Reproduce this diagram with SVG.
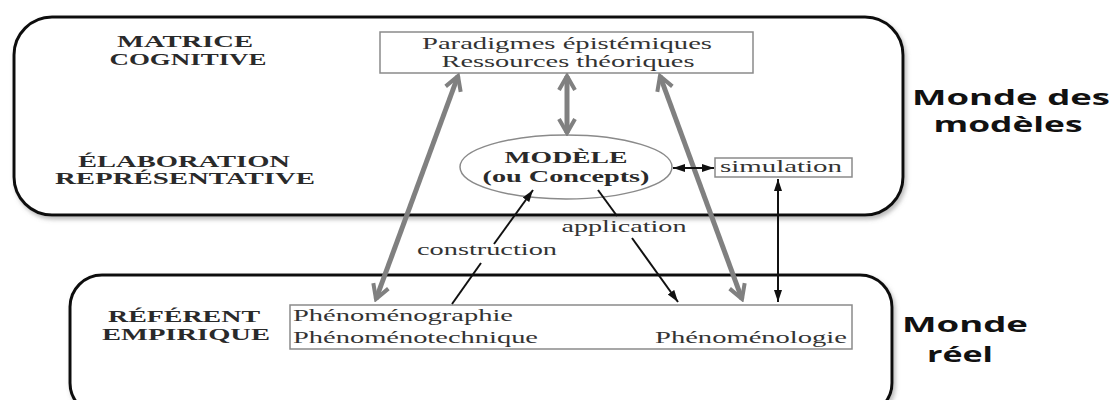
<svg xmlns="http://www.w3.org/2000/svg" width="1112" height="400" viewBox="0 0 1112 400">
<style>
.frame{fill:#fff;stroke:#111;stroke-width:3;filter:url(#sh)}
.box{fill:#fff;stroke:#8a8a8a;stroke-width:1.5}
.lab{font-family:"Liberation Serif",serif;font-weight:bold;font-size:16px;fill:#2a2a2a;text-anchor:middle}
.txt{font-family:"Liberation Serif",serif;font-size:16px;fill:#333}
.mid{text-anchor:middle}
.world{font-family:"Open Sans","Liberation Sans",sans-serif;font-weight:bold;font-size:21px;fill:#111;text-anchor:middle}
.g{stroke:#808080;stroke-width:5;fill:none}
.k{stroke:#111;stroke-width:2;fill:none}
</style>
<defs>
<filter id="sh" x="-5%" y="-5%" width="110%" height="115%">
<feDropShadow dx="2" dy="3" stdDeviation="2" flood-color="#777" flood-opacity="0.5"/>
</filter>
<marker id="ga" viewBox="0 0 20 20" refX="17" refY="10" markerWidth="20" markerHeight="20" markerUnits="userSpaceOnUse" orient="auto-start-reverse">
<path d="M3,2 L17,10 L3,18" fill="none" stroke="#808080" stroke-width="4"/>
</marker>
<marker id="ba" viewBox="0 0 12 10" refX="12" refY="5" markerWidth="12" markerHeight="10" markerUnits="userSpaceOnUse" orient="auto-start-reverse">
<path d="M0,1 L12,5 L0,9 Z" fill="#111"/>
</marker>
</defs>

<g id="monde-modeles">
<rect class="frame" x="14" y="17" width="889" height="198" rx="38" ry="38"/>
<text class="lab" x="185" y="47" textLength="136" lengthAdjust="spacingAndGlyphs">MATRICE</text>
<text class="lab" x="188" y="65" textLength="157" lengthAdjust="spacingAndGlyphs">COGNITIVE</text>
<text class="lab" x="184" y="167" textLength="212" lengthAdjust="spacingAndGlyphs">ÉLABORATION</text>
<text class="lab" x="185" y="184" textLength="260" lengthAdjust="spacingAndGlyphs">REPRÉSENTATIVE</text>
</g>

<g id="monde-reel">
<rect class="frame" x="70" y="275" width="822" height="140" rx="32" ry="32"/>
<text class="lab" x="184" y="322" textLength="152" lengthAdjust="spacingAndGlyphs">RÉFÉRENT</text>
<text class="lab" x="186" y="340" textLength="168" lengthAdjust="spacingAndGlyphs">EMPIRIQUE</text>
</g>

<g id="paradigmes">
<rect class="box" x="380" y="32" width="373" height="41"/>
<text class="txt mid" x="567" y="49" textLength="290" lengthAdjust="spacingAndGlyphs">Paradigmes épistémiques</text>
<text class="txt mid" x="568" y="67" textLength="253" lengthAdjust="spacingAndGlyphs">Ressources théoriques</text>
</g>

<g id="modele">
<ellipse cx="566" cy="167" rx="106" ry="32" fill="#fff" stroke="#8a8a8a" stroke-width="1.5"/>
<text class="lab" x="566" y="163" font-size="17" textLength="123" lengthAdjust="spacingAndGlyphs">MODÈLE</text>
<text class="lab" x="566" y="182" textLength="167" lengthAdjust="spacingAndGlyphs">(ou Concepts)</text>
</g>

<g id="simulation">
<rect class="box" x="715" y="158" width="137" height="19"/>
<text class="txt mid" x="781" y="172" font-size="15" textLength="122" lengthAdjust="spacingAndGlyphs">simulation</text>
</g>

<g id="phenomeno">
<rect class="box" x="290" y="305" width="562" height="44"/>
<text class="txt" x="293" y="321" textLength="220" lengthAdjust="spacingAndGlyphs">Phénoménographie</text>
<text class="txt" x="293" y="343" textLength="245" lengthAdjust="spacingAndGlyphs">Phénoménotechnique</text>
<text class="txt" x="847" y="343" text-anchor="end" textLength="192" lengthAdjust="spacingAndGlyphs">Phénoménologie</text>
</g>

<g id="connectors">
<line class="g" x1="458" y1="76" x2="376" y2="299" marker-start="url(#ga)" marker-end="url(#ga)"/>
<line class="g" x1="660" y1="76" x2="742" y2="299" marker-start="url(#ga)" marker-end="url(#ga)"/>
<line class="g" x1="567" y1="76" x2="567" y2="133" marker-start="url(#ga)" marker-end="url(#ga)"/>
<line class="k" x1="673" y1="168" x2="714" y2="168" marker-start="url(#ba)" marker-end="url(#ba)"/>
<line class="k" x1="778" y1="179" x2="778" y2="302" marker-start="url(#ba)" marker-end="url(#ba)"/>
<line class="k" x1="452" y1="304" x2="481" y2="263"/>
<line class="k" x1="494" y1="244" x2="533" y2="190" marker-end="url(#ba)"/>
<line class="k" x1="598" y1="190" x2="617" y2="216"/>
<line class="k" x1="632" y1="238" x2="678" y2="302" marker-end="url(#ba)"/>
<text class="txt mid" x="487" y="255" textLength="140" lengthAdjust="spacingAndGlyphs">construction</text>
<text class="txt mid" x="624" y="232" textLength="125" lengthAdjust="spacingAndGlyphs">application</text>
</g>

<g id="labels-mondes">
<text class="world" x="1011" y="105" textLength="198" lengthAdjust="spacingAndGlyphs">Monde des</text>
<text class="world" x="1008" y="132" textLength="149" lengthAdjust="spacingAndGlyphs">modèles</text>
<text class="world" x="965" y="332" font-size="24" textLength="126" lengthAdjust="spacingAndGlyphs">Monde</text>
<text class="world" x="960" y="362" font-size="24" textLength="66" lengthAdjust="spacingAndGlyphs">réel</text>
</g>
</svg>
